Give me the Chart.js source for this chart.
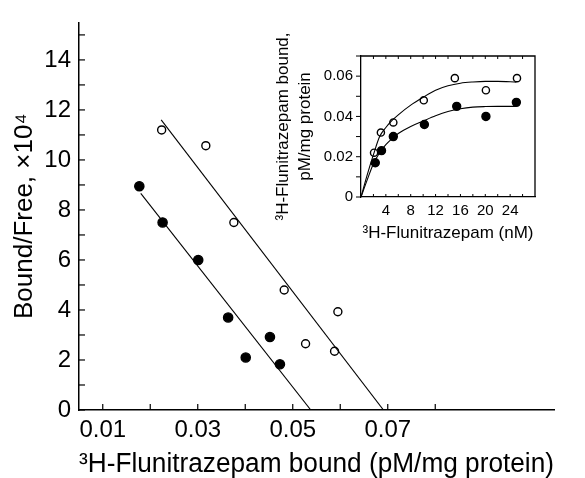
<!DOCTYPE html>
<html>
<head>
<meta charset="utf-8">
<script src="https://cdn.jsdelivr.net/npm/chart.js@4.4.0/dist/chart.umd.min.js"></script>
<style>
  body { margin: 0; background: #fff; }
  #wrap { position: relative; width: 585px; height: 478px; }
  canvas { position: absolute; left: 0; top: 0; }
</style>
</head>
<body>
<div id="wrap">
  <canvas id="main" width="585" height="478"></canvas>
  <canvas id="inset" width="585" height="478"></canvas>
</div>
<script>
// main Scatchard plot
var openX = [0.0224, 0.0317, 0.0376, 0.0482, 0.0527, 0.0588, 0.0595];
var openY = [11.2, 10.57, 7.5, 4.8, 2.65, 2.35, 3.93];
var filledX = [0.0177, 0.0226, 0.0301, 0.0364, 0.0401, 0.0452, 0.0473];
var filledY = [8.95, 7.5, 6.0, 3.7, 2.1, 2.92, 1.83];
var fitOpenX = [0.0223, 0.0691];
var fitOpenY = [11.6, 0];
var fitFilledX = [0.018, 0.0538];
var fitFilledY = [8.66, 0];
var xTicks = [0.01, 0.02, 0.03, 0.04, 0.05, 0.06, 0.07, 0.08];
var xLabels = [0.01, 0.03, 0.05, 0.07];
var yTicks = [0, 1, 2, 3, 4, 5, 6, 7, 8, 9, 10, 11, 12, 13, 14, 15];
var yLabels = [0, 2, 4, 6, 8, 10, 12, 14];

// inset saturation curve
var inOpenX = [2.1, 3.2, 5.2, 10.1, 15.1, 20.1, 25.1];
var inOpenY = [0.022, 0.032, 0.037, 0.048, 0.059, 0.053, 0.059];
var inFilledX = [2.3, 3.3, 5.2, 10.2, 15.4, 20.1, 25.0];
var inFilledY = [0.017, 0.023, 0.030, 0.036, 0.045, 0.040, 0.047];
var curveX = [0, 1, 2, 3, 4, 5, 6, 8, 10, 12, 14, 16, 18, 20, 22, 24, 25];
var curveOpenY = [0, 0.011, 0.021, 0.030, 0.0345, 0.038, 0.0408, 0.0456, 0.0495, 0.053, 0.0552, 0.0565, 0.0571, 0.0574, 0.0574, 0.0572, 0.057];
var curveFilledY = [0, 0.0085, 0.0165, 0.022, 0.026, 0.029, 0.0315, 0.035, 0.0377, 0.0403, 0.0424, 0.0438, 0.0446, 0.0449, 0.045, 0.045, 0.045];
var inXTicks = [2, 4, 6, 8, 10, 12, 14, 16, 18, 20, 22, 24, 26];
var inXLabels = [4, 8, 12, 16, 20, 24];
var inYTicks = [0, 0.01, 0.02, 0.03, 0.04, 0.05, 0.06, 0.07];
var inYLabels = [0, 0.02, 0.04, 0.06];

Chart.defaults.font.family = "'Liberation Sans', Arial, sans-serif";
Chart.defaults.color = '#000';

function pts(xs, ys) {
  return xs.map(function(x, i) { return {x: x, y: ys[i]}; });
}
function has(list, v) {
  return list.some(function(a) { return Math.abs(a - v) < 1e-9; });
}

// tick marks drawn by hand so they can point inward
var tickMarks = {
  id: 'tickMarks',
  afterDraw: function(chart, args, opts) {
    var ctx = chart.ctx, a = chart.chartArea;
    ctx.save();
    ctx.strokeStyle = '#000';
    ctx.lineWidth = opts.width;
    chart.scales.x.ticks.forEach(function(t) {
      var p = chart.scales.x.getPixelForValue(t.value);
      ctx.beginPath();
      ctx.moveTo(p, a.bottom);
      ctx.lineTo(p, a.bottom - opts.x);
      ctx.stroke();
      if (opts.box) {
        ctx.beginPath();
        ctx.moveTo(p, a.top);
        ctx.lineTo(p, a.top + opts.x);
        ctx.stroke();
      }
    });
    chart.scales.y.ticks.forEach(function(t) {
      var p = chart.scales.y.getPixelForValue(t.value);
      ctx.beginPath();
      ctx.moveTo(a.left, p);
      ctx.lineTo(a.left + opts.y, p);
      ctx.stroke();
    });
    if (opts.box) {
      ctx.lineWidth = 1.3;
      ctx.beginPath();
      ctx.moveTo(a.left, a.top);
      ctx.lineTo(a.right, a.top);
      ctx.lineTo(a.right, a.bottom);
      ctx.stroke();
    }
    ctx.restore();
  }
};

function pointSet(data, filled, r) {
  return {
    type: 'scatter', data: data, pointRadius: r, pointHoverRadius: r,
    pointBorderWidth: 1.4, pointBorderColor: '#000',
    pointBackgroundColor: filled ? '#000' : '#fff', showLine: false
  };
}
function lineSet(data, smooth) {
  return {
    type: 'line', data: data, borderColor: '#000', borderWidth: 1.1,
    pointRadius: 0, fill: false, cubicInterpolationMode: smooth ? 'monotone' : 'default', tension: 0
  };
}

new Chart(document.getElementById('main'), {
  type: 'scatter',
  data: {
    datasets: [
      lineSet(pts(fitOpenX, fitOpenY), false),
      lineSet(pts(fitFilledX, fitFilledY), false),
      pointSet(pts(openX, openY), false, 4),
      pointSet(pts(filledX, filledY), true, 4.6)
    ]
  },
  options: {
    responsive: false,
    animation: false,
    devicePixelRatio: 1,
    layout: { padding: { left: 0, top: 13, right: 31, bottom: 0 } },
    plugins: { legend: { display: false }, tooltip: { enabled: false },
      tickMarks: { x: 6, y: 6, width: 1.2, box: false } },
    scales: {
      x: {
        type: 'linear', min: 0.005, max: 0.105,
        afterBuildTicks: function(s) { s.ticks = xTicks.map(function(v) { return {value: v}; }); },
        afterFit: function(s) { s.height = 68; },
        grid: { display: false, drawTicks: false },
        border: { display: true, color: '#000', width: 1.5 },
        ticks: { autoSkip: false, maxRotation: 0, padding: 6, font: { size: 24 },
          callback: function(v) { return has(xLabels, v) ? v.toFixed(2) : ''; } },
        title: { display: true, text: '³H-Flunitrazepam bound (pM/mg protein)',
          font: { size: 27, lineHeight: 1 }, padding: { top: 0, bottom: 0 } }
      },
      y: {
        type: 'linear', min: 0, max: 15.5,
        afterBuildTicks: function(s) { s.ticks = yTicks.map(function(v) { return {value: v}; }); },
        afterFit: function(s) { s.width = 79; },
        grid: { display: false, drawTicks: false },
        border: { display: true, color: '#000', width: 1.5 },
        ticks: { autoSkip: false, padding: 8, font: { size: 24 },
          callback: function(v) { return has(yLabels, v) ? String(v) : ''; } },
        title: { display: true, text: 'Bound/Free, ×10⁴',
          font: { size: 26, lineHeight: 1 }, padding: { top: 12, bottom: 0 } }
      }
    }
  },
  plugins: [tickMarks]
});

new Chart(document.getElementById('inset'), {
  type: 'scatter',
  data: {
    datasets: [
      lineSet(pts(curveX, curveOpenY), true),
      lineSet(pts(curveX, curveFilledY), true),
      pointSet(pts(inOpenX, inOpenY), false, 3.6),
      pointSet(pts(inFilledX, inFilledY), true, 4)
    ]
  },
  options: {
    responsive: false,
    animation: false,
    devicePixelRatio: 1,
    layout: { padding: { left: 270, top: 56, right: 50, bottom: 236 } },
    plugins: { legend: { display: false }, tooltip: { enabled: false },
      tickMarks: { x: 3, y: -5, width: 1, box: true } },
    scales: {
      x: {
        type: 'linear', min: 0, max: 28,
        afterBuildTicks: function(s) { s.ticks = inXTicks.map(function(v) { return {value: v}; }); },
        afterFit: function(s) { s.height = 45; },
        grid: { display: false, drawTicks: false },
        border: { display: true, color: '#000', width: 1.3 },
        ticks: { autoSkip: false, maxRotation: 0, padding: 5, font: { size: 15 },
          callback: function(v) { return has(inXLabels, v) ? String(v) : ''; } },
        title: { display: true, text: '³H-Flunitrazepam (nM)',
          font: { size: 17, lineHeight: 1 }, padding: { top: 0, bottom: 0 } }
      },
      y: {
        type: 'linear', min: 0, max: 0.07,
        afterBuildTicks: function(s) { s.ticks = inYTicks.map(function(v) { return {value: v}; }); },
        afterFit: function(s) { s.width = 91; },
        grid: { display: false, drawTicks: false },
        border: { display: true, color: '#000', width: 1.3 },
        ticks: { autoSkip: false, padding: 8, font: { size: 15 },
          callback: function(v) { return has(inYLabels, v) ? (v === 0 ? '0' : v.toFixed(2)) : ''; } },
        title: { display: true, text: ['³H-Flunitrazepam bound,', 'pM/mg protein'],
          font: { size: 17, lineHeight: 1.3 }, padding: { top: 2, bottom: 0 } }
      }
    }
  },
  plugins: [tickMarks]
});
</script>
</body>
</html>
